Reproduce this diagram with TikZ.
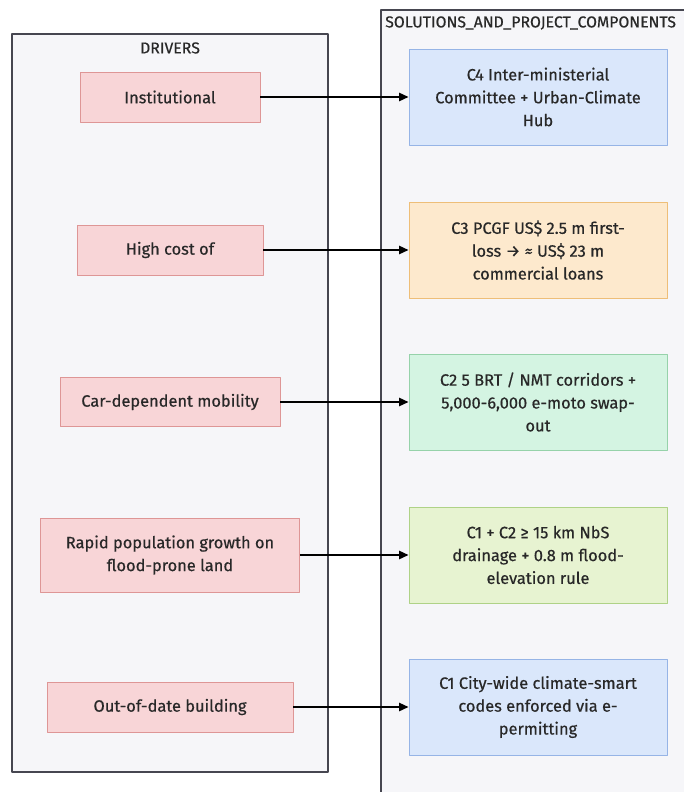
\documentclass[tikz,border=0pt]{standalone}
\usepackage{fontspec}
\setmainfont{Fira Sans}[FakeBold=0.5,UprightFeatures={FakeBold=0.5}]
\usetikzlibrary{arrows.meta}

\begin{document}
\begin{tikzpicture}[x=0.03cm,y=-0.03cm,line join=round,
    cause/.style={draw=causeline,fill=causefill,line width=0.8pt,align=center,
      font=\fontsize{14}{19.5}\selectfont\color{ink},inner sep=0pt},
    answer/.style={draw=#1line,fill=#1fill,line width=0.8pt,align=center,
      minimum width=7.74cm,minimum height=2.88cm,
      font=\fontsize{14}{19.5}\selectfont\color{ink},inner sep=0pt},
    link/.style={-{Triangle[length=8pt,width=7pt]},line width=1.5pt,black}]
  \definecolor{ink}{RGB}{40,40,40}
  \definecolor{groupfill}{RGB}{246,246,249}
  \definecolor{groupline}{RGB}{70,70,80}
  \definecolor{causefill}{RGB}{248,213,215}
  \definecolor{causeline}{RGB}{222,150,150}
  \definecolor{bluefill}{RGB}{218,231,251}
  \definecolor{blueline}{RGB}{150,180,230}
  \definecolor{orangefill}{RGB}{253,233,205}
  \definecolor{orangeline}{RGB}{238,190,120}
  \definecolor{greenfill}{RGB}{212,244,226}
  \definecolor{greenline}{RGB}{150,210,170}
  \definecolor{olivefill}{RGB}{231,243,209}
  \definecolor{oliveline}{RGB}{175,210,135}

  \useasboundingbox (0,0) rectangle (684,792);
  \clip (0,0) rectangle (684,792);
  \fill[white] (0,0) rectangle (684,792);

  % groups
  \filldraw[fill=groupfill,draw=groupline,line width=1.2pt] (12,34) rectangle (328,772);
  \filldraw[fill=groupfill,draw=groupline,line width=1.2pt] (381,10) rectangle (720,810);
  \node[font=\fontsize{13.5}{15}\selectfont\color{ink}] (drivers) at (170,48) {DRIVERS};
  \node[anchor=west,font=\fontsize{13.5}{15}\selectfont\color{ink},inner sep=0pt] (solutions) at (385,23) {SOLUTIONS\_AND\_PROJECT\_COMPONENTS};

  % drivers
  \node[cause,minimum width=5.4cm,minimum height=1.5cm] (inst) at (170,97) {Institutional};
  \node[cause,minimum width=5.58cm,minimum height=1.5cm] (cost) at (170,250) {High cost of};
  \node[cause,minimum width=6.6cm,minimum height=1.47cm] (car) at (170,402) {Car-dependent mobility};
  \node[cause,minimum width=7.77cm,minimum height=2.22cm] (growth) at (170,555) {Rapid population growth on\\flood-prone land};
  \node[cause,minimum width=7.38cm,minimum height=1.5cm] (build) at (170,707) {Out-of-date building};

  % solutions
  \node[answer=blue] (c4) at (538,97) {C4 Inter-ministerial\\Committee + Urban-Climate\\Hub};
  \node[answer=orange] (c3) at (538,250) {C3 PCGF US\$ 2.5 m first-\\loss → ≈ US\$ 23 m\\commercial loans};
  \node[answer=green] (c2) at (538,402) {C2 5 BRT / NMT corridors +\\5,000-6,000 e-moto swap-\\out};
  \node[answer=olive] (c12) at (538,555) {C1 + C2 ≥ 15 km NbS\\drainage + 0.8 m flood-\\elevation rule};
  \node[answer=blue] (c1) at (538,707) {C1 City-wide climate-smart\\codes enforced via e-\\permitting};

  % links
  \draw[link] (inst) -- (c4);
  \draw[link] (cost) -- (c3);
  \draw[link] (car) -- (c2);
  \draw[link] (growth) -- (c12);
  \draw[link] (build) -- (c1);
\end{tikzpicture}
\end{document}
